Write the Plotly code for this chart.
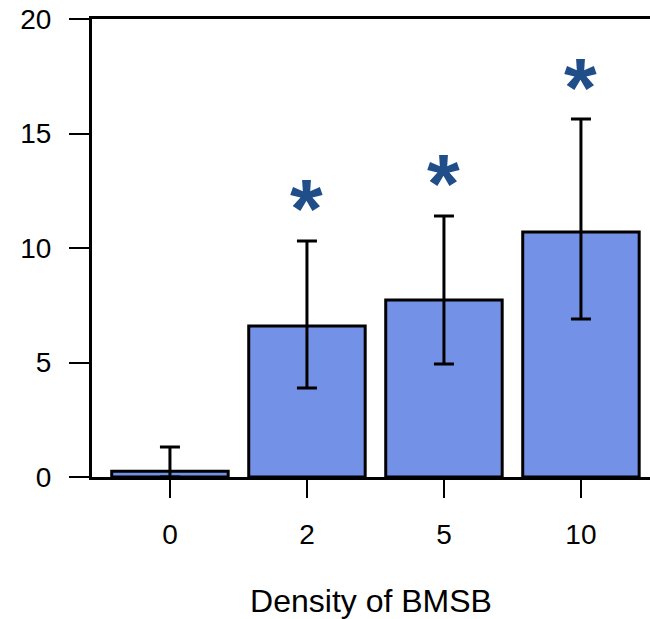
import plotly.graph_objects as go

# Bar chart: response by BMSB density, with error bars and significance marks
densities = ["0", "2", "5", "10"]
means = [0.25, 6.59, 7.73, 10.70]
upper = [1.31, 10.31, 11.40, 15.63]
lower = [0.0, 3.89, 4.93, 6.90]
significant = [False, True, True, True]

y_ticks = [0, 5, 10, 15, 20]

err_plus = [u - m for u, m in zip(upper, means)]
err_minus = [m - l for m, l in zip(means, lower)]

FONT = "Liberation Sans, Arial, Helvetica, sans-serif"

fig = go.Figure(
    go.Bar(
        x=densities,
        y=means,
        width=0.85,
        marker=dict(color="#7391e6", line=dict(color="black", width=3)),
        error_y=dict(
            type="data",
            symmetric=False,
            array=err_plus,
            arrayminus=err_minus,
            color="black",
            thickness=3,
            width=10,
        ),
    )
)

# Asterisks above the significant bars (x given as category index)
for i, (u, s) in enumerate(zip(upper, significant)):
    if s:
        fig.add_annotation(
            x=i, y=u + 1.9, text="<b>*</b>", showarrow=False,
            font=dict(family=FONT, size=84, color="#1f4e89"),
            yanchor="middle", xanchor="center", yshift=-12,
        )

fig.update_layout(
    width=650,
    height=619,
    margin=dict(l=92, r=0, t=19, b=142),
    plot_bgcolor="white",
    paper_bgcolor="white",
    showlegend=False,
    font=dict(family=FONT, size=28, color="black"),
    xaxis=dict(
        type="category",
        range=[-0.569, 3.504],
        showline=True, linecolor="black", linewidth=3, mirror=True,
        ticks="outside", ticklen=18, tickwidth=1.5, tickcolor="black",
        ticklabelstandoff=12,
        tickfont=dict(size=28),
        title=dict(text="Density of BMSB", font=dict(size=32), standoff=44),
        showgrid=False, zeroline=False,
    ),
    yaxis=dict(
        range=[0, 20],
        tickvals=y_ticks,
        showline=True, linecolor="black", linewidth=3,
        ticks="outside", ticklen=20, tickwidth=1.5, tickcolor="black",
        ticklabelstandoff=12,
        tickfont=dict(size=28),
        showgrid=False, zeroline=False,
    ),
)

fig.write_html("out.html")
